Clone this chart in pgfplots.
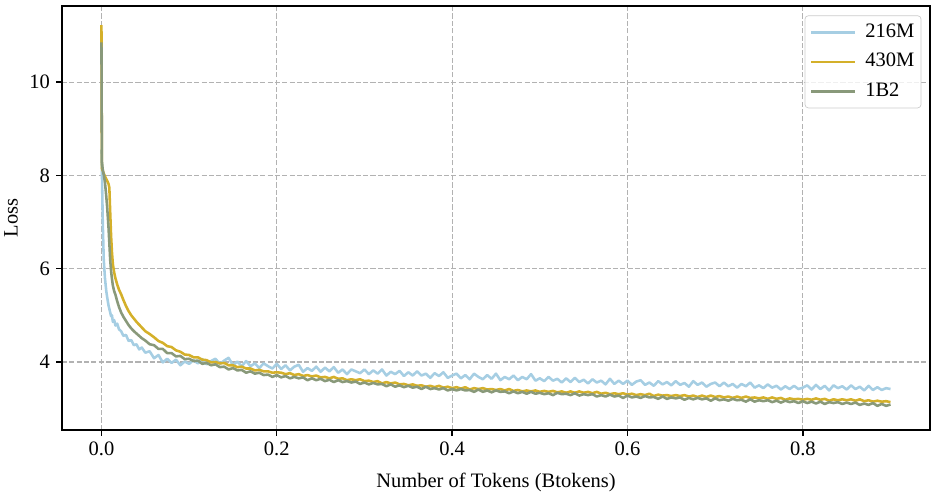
\documentclass[border=0pt]{standalone}
\usepackage{fontspec}
\setmainfont{Liberation Serif}
\usepackage{pgfplots}
\usepackage{pgfplotstable}
\pgfplotsset{compat=1.18}
\definecolor{c216}{RGB}{166,206,227}
\definecolor{c430}{RGB}{212,176,42}
\definecolor{c1b2}{RGB}{137,153,122}

% training loss, sampled by hand from the curves
\pgfplotstableread{
x s216 s430 s1b2
0.0000 8.55 11.22 10.85
0.0005 8.10 8.15 8.30
0.0015 7.00 8.10 8.12
0.0026 6.20 8.04 8.02
0.0040 5.80 7.98 7.85
0.0055 5.52 7.92 7.55
0.0066 5.38 7.88 7.30
0.0080 5.22 7.82 6.90
0.0090 5.14 7.74 6.55
0.0100 5.06 7.20 6.18
0.0110 4.98 6.70 5.95
0.0120 5.00 6.35 5.78
0.0130 4.86 6.10 5.64
0.0145 4.90 5.92 5.52
0.0160 4.78 5.79 5.44
0.0180 4.82 5.66 5.30
0.0200 4.70 5.55 5.18
0.0225 4.66 5.45 5.06
0.0250 4.56 5.33 4.97
0.0280 4.58 5.20 4.88
0.0310 4.45 5.09 4.79
0.0340 4.47 5.00 4.72
0.0370 4.36 4.93 4.66
0.0400 4.38 4.86 4.61
0.0430 4.27 4.80 4.56
0.0460 4.31 4.74 4.51
0.0500 4.20 4.66 4.46
0.055 4.23 4.60 4.38
0.060 4.08 4.53 4.36
0.065 4.15 4.45 4.28
0.070 3.99 4.41 4.28
0.075 4.07 4.34 4.19
0.080 3.98 4.32 4.19
0.085 4.05 4.25 4.12
0.090 3.93 4.22 4.13
0.095 4.01 4.16 4.06
0.100 3.96 4.15 4.07
0.105 4.04 4.10 4.02
0.110 3.97 4.10 4.03
0.115 4.06 4.05 3.96
0.120 3.95 4.04 3.98
0.125 4.02 3.99 3.93
0.130 4.07 4.00 3.95
0.135 3.96 3.97 3.89
0.140 4.03 3.98 3.90
0.145 4.09 3.93 3.84
0.150 3.93 3.93 3.87
0.155 4.01 3.89 3.82
0.160 3.91 3.90 3.83
0.165 4.02 3.86 3.77
0.170 3.91 3.86 3.80
0.175 3.97 3.82 3.75
0.180 3.87 3.83 3.77
0.185 3.97 3.80 3.72
0.190 3.91 3.80 3.73
0.195 3.86 3.77 3.68
0.200 3.96 3.78 3.72
0.205 3.85 3.77 3.67
0.210 3.93 3.74 3.70
0.215 3.82 3.76 3.65
0.220 3.90 3.72 3.68
0.225 3.94 3.74 3.65
0.230 3.79 3.70 3.67
0.235 3.87 3.72 3.61
0.240 3.81 3.69 3.65
0.245 3.90 3.71 3.61
0.250 3.79 3.67 3.64
0.255 3.88 3.68 3.59
0.260 3.80 3.65 3.62
0.265 3.89 3.68 3.57
0.270 3.77 3.64 3.61
0.275 3.84 3.65 3.57
0.280 3.74 3.61 3.59
0.285 3.84 3.63 3.56
0.290 3.80 3.61 3.58
0.295 3.76 3.63 3.53
0.300 3.84 3.59 3.56
0.305 3.74 3.60 3.52
0.310 3.82 3.57 3.55
0.315 3.75 3.59 3.52
0.320 3.84 3.54 3.53
0.325 3.71 3.57 3.48
0.330 3.79 3.54 3.52
0.335 3.74 3.56 3.47
0.340 3.81 3.52 3.50
0.345 3.70 3.53 3.46
0.350 3.78 3.50 3.49
0.355 3.71 3.52 3.45
0.360 3.80 3.49 3.47
0.365 3.71 3.50 3.42
0.370 3.75 3.47 3.47
0.375 3.66 3.49 3.42
0.380 3.76 3.46 3.44
0.385 3.70 3.49 3.41
0.390 3.78 3.45 3.44
0.395 3.66 3.47 3.39
0.400 3.71 3.44 3.42
0.405 3.75 3.46 3.39
0.410 3.65 3.43 3.42
0.415 3.72 3.46 3.39
0.420 3.63 3.41 3.40
0.425 3.75 3.44 3.36
0.430 3.68 3.42 3.41
0.435 3.63 3.44 3.36
0.440 3.72 3.41 3.39
0.445 3.64 3.42 3.35
0.450 3.75 3.40 3.39
0.455 3.61 3.42 3.36
0.460 3.68 3.39 3.37
0.465 3.63 3.42 3.33
0.470 3.71 3.38 3.37
0.475 3.61 3.40 3.33
0.480 3.68 3.37 3.36
0.485 3.63 3.39 3.32
0.490 3.74 3.37 3.36
0.495 3.60 3.39 3.32
0.500 3.65 3.36 3.34
0.505 3.59 3.38 3.31
0.510 3.68 3.36 3.33
0.515 3.60 3.38 3.29
0.520 3.64 3.35 3.34
0.525 3.56 3.37 3.31
0.530 3.65 3.34 3.32
0.535 3.57 3.37 3.29
0.540 3.66 3.34 3.33
0.545 3.57 3.37 3.28
0.550 3.62 3.34 3.31
0.555 3.54 3.36 3.29
0.560 3.63 3.33 3.31
0.565 3.56 3.36 3.26
0.570 3.60 3.32 3.29
0.575 3.52 3.34 3.26
0.580 3.64 3.31 3.30
0.585 3.53 3.33 3.26
0.590 3.60 3.31 3.28
0.595 3.53 3.33 3.23
0.600 3.60 3.30 3.28
0.605 3.51 3.32 3.24
0.610 3.58 3.29 3.26
0.615 3.61 3.31 3.23
0.620 3.51 3.29 3.27
0.625 3.56 3.32 3.24
0.630 3.49 3.27 3.25
0.635 3.59 3.30 3.21
0.640 3.52 3.28 3.26
0.645 3.57 3.29 3.21
0.650 3.50 3.27 3.24
0.655 3.59 3.29 3.22
0.660 3.51 3.27 3.24
0.665 3.55 3.29 3.19
0.670 3.47 3.26 3.23
0.675 3.59 3.28 3.20
0.680 3.51 3.25 3.23
0.685 3.56 3.28 3.20
0.690 3.47 3.25 3.22
0.695 3.53 3.28 3.17
0.700 3.56 3.25 3.22
0.705 3.48 3.27 3.18
0.710 3.56 3.24 3.20
0.715 3.48 3.26 3.17
0.720 3.53 3.23 3.21
0.725 3.45 3.26 3.18
0.730 3.53 3.23 3.19
0.735 3.48 3.26 3.15
0.740 3.56 3.23 3.20
0.745 3.45 3.24 3.15
0.750 3.50 3.22 3.18
0.755 3.44 3.24 3.16
0.760 3.52 3.21 3.18
0.765 3.45 3.24 3.14
0.770 3.49 3.21 3.17
0.775 3.41 3.23 3.13
0.780 3.48 3.19 3.17
0.785 3.42 3.22 3.14
0.790 3.49 3.20 3.16
0.795 3.42 3.21 3.12
0.800 3.45 3.19 3.16
0.805 3.50 3.21 3.12
0.810 3.41 3.19 3.15
0.815 3.51 3.22 3.11
0.820 3.42 3.19 3.15
0.825 3.49 3.21 3.10
0.830 3.39 3.17 3.14
0.835 3.50 3.20 3.12
0.840 3.44 3.18 3.14
0.845 3.48 3.20 3.10
0.850 3.41 3.18 3.13
0.855 3.50 3.20 3.10
0.860 3.42 3.17 3.13
0.865 3.47 3.20 3.08
0.870 3.39 3.16 3.11
0.875 3.49 3.18 3.08
0.880 3.40 3.15 3.12
0.885 3.46 3.17 3.06
0.890 3.40 3.15 3.10
0.895 3.44 3.16 3.06
0.900 3.42 3.14 3.09
}\losstable

\begin{document}
\begin{tikzpicture}
\begin{axis}[
    scale only axis,
    width=508.2pt, height=248.2pt,
    xmin=-0.045, xmax=0.945,
    ymin=2.545, ymax=11.63,
    xtick={0,0.2,0.4,0.6,0.8},
    ytick={4,6,8,10},
    xticklabel style={/pgf/number format/.cd, fixed, fixed zerofill, precision=1},
    /pgf/number format/assume math mode=true,
    tick align=outside,
    major tick length=3.5pt,
    tick style={black, line width=0.8pt},
    axis line style={black, line width=0.8pt},
    xtick pos=bottom, ytick pos=left,
    grid=major,
    major grid style={black!30, line width=0.6pt, dash pattern=on 3pt off 1.3pt},
    ticklabel style={font=\fontsize{12}{14}\selectfont},
    label style={font=\fontsize{12}{14}\selectfont},
    xlabel={Number of Tokens (Btokens)},
    ylabel={Loss},
    xlabel style={yshift=-3pt},
    legend style={at={(1,1)}, anchor=north east, xshift=-5pt, yshift=-5.5pt,
        draw=black!20, rounded corners=2pt, fill=white, fill opacity=0.8,
        text opacity=1, font=\fontsize{12}{14}\selectfont,
        inner xsep=3pt, inner ysep=3.2pt, row sep=4.3pt,
        nodes={inner sep=1pt, text height=8.5pt, text depth=2.5pt},
        column sep=4pt,
        cells={anchor=west}},
    legend image code/.code={\draw[#1] (0pt,0pt) -- (25.8pt,0pt);},
    legend cell align=left,
    every axis plot/.append style={line width=1.5pt, line join=round},
]
\addplot[c216] table[x=x, y=s216] {\losstable};
\addlegendentry{216M}
\addplot[c430] table[x=x, y=s430] {\losstable};
\addlegendentry{430M}
\addplot[c1b2] table[x=x, y=s1b2] {\losstable};
\addlegendentry{1B2}
\coordinate (bl) at (rel axis cs:0,0);
\coordinate (tr) at (rel axis cs:1,1);
\end{axis}
\pgfresetboundingbox
\path ([xshift=-36.3pt, yshift=-36.9pt]bl) rectangle ([xshift=1.2pt, yshift=3.5pt]tr);
\end{tikzpicture}
\end{document}
